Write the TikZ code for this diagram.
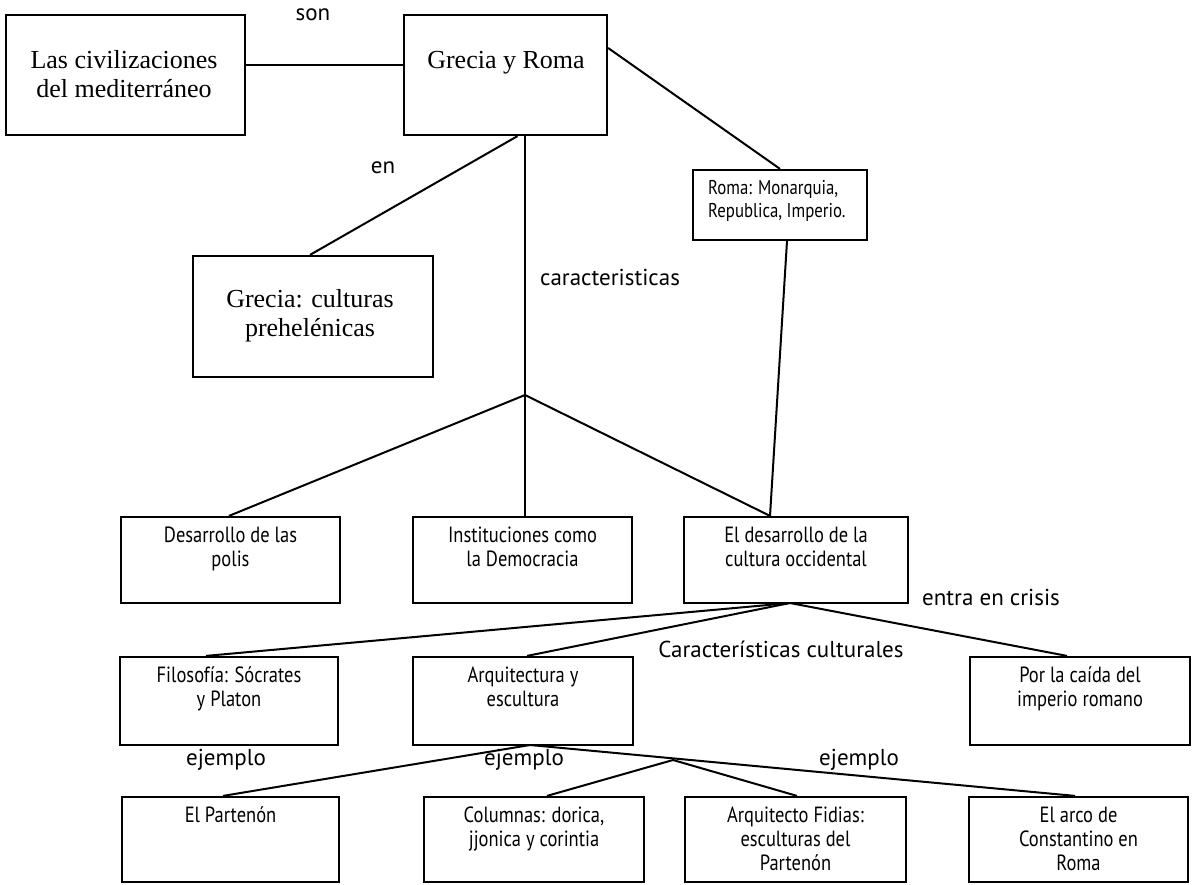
\documentclass[tikz,border=0pt]{standalone}
\usepackage{fontspec}
\setmainfont{Liberation Serif}
\newfontfamily\labfont{PT Sans}
\newfontfamily\narfont[FakeStretch=0.84]{PT Sans}
\begin{document}
\begin{tikzpicture}[x=1pt,y=-1pt,
  box/.style={draw, line width=2.2pt, inner sep=0pt},
  link/.style={line width=2pt},
  big/.style={font=\fontsize{26}{29}\selectfont, align=center, inner sep=0pt},
  lab/.style={font=\labfont\fontsize{23}{26}\selectfont, inner sep=0pt},
  small/.style={font=\narfont\fontsize{20}{23}\selectfont, align=left, inner sep=0pt},
  nar/.style={font=\narfont\fontsize{22}{24}\selectfont, align=center, anchor=north, inner sep=0pt},
]
\useasboundingbox (0,0) rectangle (1193,885);
\fill[white] (0,0) rectangle (1193,885);

% boxes: placed by centre, sized by width and height
\node[box, minimum width=239pt, minimum height=120pt] (civ) at (125.5,75) {};
\node[box, minimum width=203pt, minimum height=120pt] (gr)  at (505.5,75) {};
\node[box, minimum width=174pt, minimum height=70pt]  (roma) at (780,205) {};
\node[box, minimum width=240pt, minimum height=121pt] (gc)  at (313,316.5) {};

\node[box, minimum width=219pt, minimum height=86pt] (des)  at (230.5,560) {};
\node[box, minimum width=219pt, minimum height=86pt] (inst) at (522.5,560) {};
\node[box, minimum width=224pt, minimum height=86pt] (occ)  at (796,560) {};

\node[box, minimum width=218pt, minimum height=88pt] (fil) at (229,701) {};
\node[box, minimum width=220pt, minimum height=88pt] (arq) at (523,701) {};
\node[box, minimum width=220pt, minimum height=88pt] (cai) at (1080,701) {};

\node[box, minimum width=217pt, minimum height=85pt] (par)  at (230.5,839.5) {};
\node[box, minimum width=220pt, minimum height=85pt] (col)  at (534,839.5) {};
\node[box, minimum width=221pt, minimum height=85pt] (fid)  at (795.5,839.5) {};
\node[box, minimum width=219pt, minimum height=85pt] (arco) at (1078.5,839.5) {};

% box texts
\node[big] (civ-t) at (124,74) {Las civilizaciones\\del mediterráneo};
\node[big] (gr-t) at (506,63) {Grecia y Roma};
\node[small, anchor=north west] (roma-t) at (708,180) {Roma: Monarquia,\\Republica, Imperio.};
\node[big] (gc-t) at (310,316) {Grecia: culturas\\prehelénicas};

\node[nar] (des-t)  at (des.north)  [yshift=-11pt] {Desarrollo de las\\polis};
\node[nar] (inst-t) at (inst.north) [yshift=-11pt] {Instituciones como\\la Democracia};
\node[nar] (occ-t)  at (occ.north)  [yshift=-11pt] {El desarrollo de la\\cultura occidental};

\node[nar] (fil-t) at (fil.north) [yshift=-11pt] {Filosofía: Sócrates\\y Platon};
\node[nar] (arq-t) at (arq.north) [yshift=-11pt] {Arquitectura y\\escultura};
\node[nar] (cai-t) at (cai.north) [yshift=-11pt] {Por la caída del\\imperio romano};

\node[nar] (par-t)  at (par.north)  [yshift=-11pt] {El Partenón};
\node[nar] (col-t)  at (col.north)  [yshift=-11pt] {Columnas: dorica,\\jjonica y corintia};
\node[nar] (fid-t)  at (fid.north)  [yshift=-11pt] {Arquitecto Fidias:\\esculturas del\\Partenón};
\node[nar] (arco-t) at (arco.north) [yshift=-11pt] {El arco de\\Constantino en\\Roma};

% connector labels
\node[lab] (l-son) at (313,15) {son};
\node[lab] (l-en) at (383,168) {en};
\node[lab, anchor=west] (l-car) at (540,277) {caracteristicas};
\node[lab] (l-crisis) at (991,597) {entra en crisis};
\node[lab] (l-cult) at (781,649) {Características culturales};
\node[lab] (l-ej1) at (226,760) {ejemplo};
\node[lab] (l-ej2) at (524,760) {ejemplo};
\node[lab] (l-ej3) at (859,760) {ejemplo};

% junction points
\coordinate (j1) at (525,395);
\coordinate (j2) at (790,603);
\coordinate (ja) at (530,745);
\coordinate (j3) at (673,760);

% connectors
\draw[link] ([yshift=10pt]civ.east) -- ([yshift=10pt]gr.west);
\draw[link] ([xshift=12pt]gr.south) -- ([xshift=-3pt]gc.north);
\draw[link] ([xshift=19.5pt]gr.south) -- (j1);
\draw[link] ([yshift=27pt]gr.east) -- (roma.north);
\draw[link] ([xshift=7pt]roma.south) -- ([xshift=-26pt]occ.north);
\draw[link] (j1) -- ([xshift=-1.5pt]des.north);
\draw[link] (j1) -- ([xshift=2.5pt]inst.north);
\draw[link] (j1) -- ([xshift=-26pt]occ.north);
\draw[link] (j2) -- ([xshift=-23pt]fil.north);
\draw[link] (j2) -- ([xshift=4pt]arq.north);
\draw[link] (j2) -- ([xshift=-13pt]cai.north);
\draw[link] (ja) -- ([xshift=-7.5pt]par.north);
\draw[link] (ja) -- ([xshift=-3.5pt]arco.north);
\draw[link] (j3) -- ([xshift=13pt]col.north);
\draw[link] (j3) -- ([xshift=1.5pt]fid.north);
\end{tikzpicture}
\end{document}
